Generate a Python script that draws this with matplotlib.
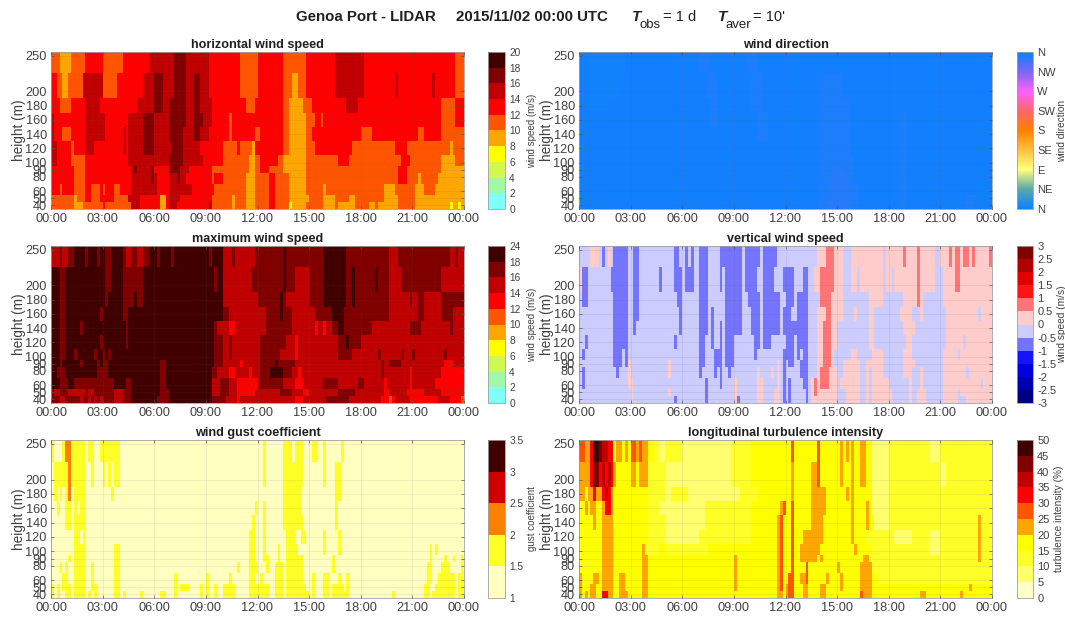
import numpy as np
import matplotlib
matplotlib.use("Agg")
import matplotlib.pyplot as plt
from matplotlib.colors import ListedColormap, BoundaryNorm, LinearSegmentedColormap, Normalize

plt.rcParams['font.family'] = ['Liberation Sans', 'DejaVu Sans']

N_COLS = 144
heights = [250, 200, 180, 160, 140, 120, 100, 90, 80, 60, 50, 40]
height_edges = [255, 225, 190, 170, 150, 130, 110, 95, 85, 70, 55, 45, 35]
ytick_values = [40, 50, 60, 80, 90, 100, 120, 140, 160, 180, 200, 250]
xtick_hours = [0, 3, 6, 9, 12, 15, 18, 21, 24]
xtick_labels = ['00:00', '03:00', '06:00', '09:00', '12:00', '15:00', '18:00', '21:00', '00:00']

# band index : column where the run ends (10-minute columns), rows from 250 m down to 40 m
horizontal_speed = [
 "5:3 4:7 5:12 6:18 5:25 6:34 7:43 8:47 7:55 6:66 5:72 6:81 5:89 6:99 7:109 6:141 5:144",
 "6:2 5:4 4:6 5:11 7:18 5:23 6:32 7:36 8:39 7:43 8:47 7:50 8:52 7:55 6:66 5:72 6:81 5:84 4:86 5:89 6:99 7:109 6:120 7:121 6:133 7:134 6:141 5:144",
 "6:3 5:7 6:12 7:17 6:30 7:36 8:39 7:41 8:47 7:50 8:52 7:56 6:68 5:71 6:81 5:83 4:88 5:91 6:103 7:107 6:136 5:141 6:144",
 "7:1 6:12 7:19 6:27 7:32 8:36 7:41 8:47 7:50 8:53 7:56 6:62 5:63 6:81 5:83 4:89 5:92 6:94 5:95 6:136 5:141 6:144",
 "7:1 6:4 5:7 6:12 7:19 6:25 7:26 6:27 7:32 8:36 7:41 8:46 7:50 8:52 7:55 6:62 5:63 6:71 5:73 6:81 5:83 4:89 5:91 6:108 5:112 6:128 5:130 6:136 5:144",
 "7:2 6:7 5:8 6:12 7:15 6:25 7:26 6:27 7:32 8:36 7:42 8:46 7:52 6:60 5:65 6:66 5:70 4:71 6:81 5:83 4:89 5:92 6:105 5:120 6:124 5:139 4:140 5:144",
 "7:2 6:7 5:12 6:27 7:41 8:46 7:53 6:60 5:69 4:71 5:73 6:79 5:81 4:89 5:100 6:104 5:122 6:125 5:136 4:141 5:144",
 "6:8 5:12 6:28 7:29 8:30 7:35 8:36 6:41 8:45 7:48 6:56 5:69 4:71 5:73 6:76 5:81 4:89 5:121 6:124 5:136 4:144",
 "6:8 5:12 6:28 7:35 8:36 7:37 6:41 7:44 8:45 7:47 6:56 5:57 6:60 5:68 4:71 5:76 6:78 5:83 4:89 5:121 6:124 5:128 4:129 5:135 4:144",
 "6:3 5:4 6:8 5:12 6:14 5:17 6:18 5:19 6:22 5:24 6:28 7:37 6:41 7:49 6:57 5:68 4:71 5:76 6:78 5:83 4:89 5:95 4:96 5:116 4:120 5:127 4:130 5:134 4:144",
 "5:8 4:9 5:12 6:14 5:17 6:22 5:27 7:31 6:38 4:40 6:41 7:45 6:56 5:63 4:64 5:68 4:71 5:76 6:78 5:83 4:90 5:95 4:99 5:104 4:106 5:116 4:121 5:127 4:144",
 "5:8 4:11 5:18 6:19 5:25 5:28 7:31 6:38 4:40 6:41 7:44 6:55 7:56 5:63 4:64 5:68 4:71 5:76 6:78 5:83 3:84 4:89 5:95 4:99 5:100 4:106 5:111 4:113 5:114 4:121 5:127 4:139 3:140 4:142 3:143 4:144",
]
maximum_speed = [
 "7:3 8:4 7:6 8:8 9:12 8:13 9:16 8:17 9:19 8:21 9:25 8:26 7:28 8:30 7:32 8:34 9:37 8:38 9:42 8:43 9:55 8:56 9:60 7:63 8:64 7:71 8:81 9:82 8:95 9:103 8:118 7:121 8:139 7:141 8:142 7:144",
 "9:3 8:5 9:19 8:21 9:25 8:32 9:57 8:58 9:60 7:64 7:70 8:81 9:82 8:85 7:90 8:95 9:103 8:105 9:106 8:113 9:114 8:118 7:122 8:136 7:144",
 "9:3 8:5 9:19 8:20 9:25 8:29 9:30 8:32 9:60 7:62 7:72 8:80 9:81 8:82 7:90 8:95 9:103 8:105 9:106 8:118 7:125 8:126 7:128 8:130 7:136 8:144",
 "9:3 8:5 9:17 8:18 9:25 8:27 9:60 8:62 7:75 8:80 9:81 8:84 7:92 8:98 9:102 8:118 7:128 8:130 7:136 8:140 7:144",
 "9:3 8:5 9:10 8:11 9:17 9:26 8:27 9:57 8:58 7:62 6:64 7:75 8:84 7:92 6:93 7:95 6:96 7:98 8:100 9:102 8:112 7:125 8:129 7:139 8:140 7:144",
 "9:3 8:5 9:17 8:18 9:26 8:27 9:57 8:60 7:62 8:63 7:73 8:82 7:85 6:86 7:100 8:103 9:104 8:108 7:144",
 "9:3 8:5 9:8 8:9 9:15 8:16 9:18 8:19 9:20 8:21 9:57 8:60 7:62 8:63 7:73 8:80 7:85 6:86 7:100 8:105 7:114 8:115 7:122 8:123 7:126 8:127 7:137 8:138 7:144",
 "9:3 8:4 9:10 8:11 9:16 8:17 9:18 8:20 9:38 8:40 9:57 8:60 7:66 6:67 7:73 8:78 9:79 8:85 7:115 8:116 7:118 8:122 7:137 6:140 7:144",
 "9:2 8:5 9:16 8:20 9:38 8:40 9:56 8:58 7:62 6:64 7:69 6:70 7:73 8:76 9:81 8:84 7:86 6:87 7:115 8:116 7:125 6:126 7:136 6:144",
 "9:3 8:6 9:8 8:22 9:26 8:28 9:38 8:40 9:56 7:59 8:62 7:65 6:72 7:73 8:81 7:85 6:88 7:95 8:100 7:107 8:109 7:116 6:117 7:125 6:126 7:134 6:144",
 "8:1 7:3 8:6 7:12 8:13 7:15 8:22 7:25 8:28 9:38 8:41 9:56 7:59 8:62 7:65 6:71 7:80 8:84 7:88 6:90 7:100 8:106 7:116 6:118 7:124 6:130 7:136 6:144",
 "8:3 7:5 8:10 7:11 8:13 7:14 8:15 7:16 8:17 7:18 8:22 7:25 8:28 9:37 8:41 9:56 8:61 7:65 6:66 7:85 6:88 7:96 8:104 7:115 6:118 5:119 6:120 7:125 6:135 7:139 6:143 5:144",
]
# sparse panels: band:start-end patches over a base band
vertical_speed = [
 "6:4-7 4:8-9 6:10-11 4:12-17 4:19-21 4:33-35 4:37-38 4:39-40 4:42-45 4:49-57 4:58-63 4:64-69 6:83-144 7:86-89 5:92-95 5:106-107 7:113-114 7:118-119 5:124-126 7:129-130 7:131-133 7:134-136 7:137-138 7:143-144",
 "6:0-1 4:1-3 4:11-17 4:19-21 4:28-29 4:33-36 4:37-40 4:42-45 4:49-50 4:51-57 4:58-62 4:64-68 4:71-75 4:78-80 6:82-144 7:84-89 5:92-95 5:97-98 5:106-107 5:109-110 7:118-119 5:124-127 7:131-133",
 "4:1-3 4:12-17 4:19-21 4:34-36 4:42-45 4:51-57 4:59-63 4:64-70 4:72-75 4:76-80 6:84-144 7:84-88 5:92-97 5:97-101 5:106-113 7:118-119 5:120-127",
 "4:12-17 4:19-21 4:35-36 4:42-45 4:46-47 4:51-57 4:60-63 4:64-70 4:71-74 4:76-80 6:83-144 7:86-88 5:92-96 5:97-101 5:103-106 5:106-112 5:116-119 5:120-128 5:139-140",
 "4:12-17 4:19-20 4:35-36 4:42-45 4:46-47 4:49-50 4:51-57 4:60-63 4:64-70 4:71-76 4:76-80 6:83-144 7:85-88 5:90-101 5:103-113 5:117-128",
 "4:2-3 4:12-17 4:33-34 4:42-44 4:46-47 4:49-50 4:51-54 4:61-63 4:64-67 4:72-75 4:76-80 6:83-144 7:85-88 5:90-101 5:103-114 5:116-128 5:134-135",
 "4:1-2 4:12-15 4:16-17 4:42-44 4:47-50 4:51-54 4:61-62 4:71-75 4:76-77 4:78-80 6:83-144 7:85-88 5:89-95 5:97-102 5:106-113 5:116-127 5:132-133",
 "4:12-15 4:16-17 6:17-18 6:31-32 4:42-44 4:47-50 4:51-54 6:69-70 4:71-72 4:73-75 4:77-80 6:83-144 7:85-88 5:89-92 5:98-100 5:106-113 5:117-127",
 "4:1-2 4:13-14 6:17-18 6:31-32 4:42-43 4:47-48 4:49-50 4:52-53 6:62-63 6:67-68 6:69-70 4:71-72 4:77-80 6:83-144 7:84-87 5:90-92 5:98-100 5:101-102 5:106-113 5:116-119 5:120-127 5:135-136",
 "4:1-2 6:17-19 4:44-45 4:49-50 6:54-55 6:62-64 6:69-70 4:71-72 4:73-74 4:78-80 6:81-144 7:82-83 7:84-87 5:90-91 5:98-100 5:101-102 5:108-115 5:116-119 5:120-127 5:140-141",
 "6:18-19 6:31-32 4:44-45 6:54-55 6:62-64 6:68-70 4:71-72 4:73-74 4:79-80 6:81-144 7:82-83 5:90-93 5:98-100 5:101-102 5:109-115 5:116-118 5:121-127 5:132-133",
 "6:18-19 4:33-34 4:44-45 6:54-55 4:55-56 6:62-64 6:68-70 4:71-72 4:73-74 4:79-80 6:81-144 5:90-93 5:98-100 5:101-102 5:109-115 5:116-118 5:121-127 5:132-135",
]
gust_coefficient = [
 "1:0-1 1:4-6 2:5-7 1:7-12 1:13-15 1:17-24 1:74-75 1:81-84 1:85-88 1:91-93 1:95-96 1:101-102",
 "1:1-6 2:6-7 1:7-12 1:14-15 1:18-19 1:20-21 1:22-24 1:74-75 1:81-88 1:95-96 1:99-101",
 "1:1-2 1:3-4 1:5-6 2:6-7 1:8-12 1:21-22 1:81-87 1:99-101",
 "1:2-3 1:5-7 1:8-9 1:10-12 1:71-72 1:74-75 1:74-75 1:81-87 1:99-100",
 "1:5-7 1:8-10 1:10-12 1:70-71 1:74-75 1:81-88 1:99-100",
 "1:8-10 1:11-12 1:69-71 1:74-75 1:82-85 1:87-89 1:95-96 1:100-101",
 "1:8-12 1:22-24 1:69-71 1:74-75 1:79-80 1:82-86 1:95-96 1:100-101 1:132-133 1:134-135",
 "1:6-7 1:8-12 1:22-24 1:69-71 1:74-76 1:79-80 1:82-88 1:98-99 1:132-133 1:137-138 1:140-141 1:143-144",
 "1:3-4 1:5-6 1:8-12 1:14-15 1:22-24 1:65-66 1:69-72 1:75-76 1:78-81 1:82-88 1:98-99 1:131-133 1:136-139 1:143-144",
 "1:4-6 1:8-12 1:14-15 1:22-24 1:43-44 1:54-55 1:62-63 1:69-71 1:73-74 1:78-81 1:82-88 1:91-92 1:95-97 1:100-101 1:103-104 1:131-133 1:135-141 1:142-144",
 "1:0-1 1:2-3 1:4-7 1:8-12 1:14-16 1:22-24 1:43-44 1:45-48 1:52-53 1:54-55 1:57-58 1:60-64 1:69-76 1:78-81 1:82-89 1:91-92 1:95-97 1:98-102 1:103-104 1:130-132 1:134-141 1:142-144",
 "1:0-1 1:2-3 1:5-7 1:8-12 1:13-14 1:15-16 1:22-24 1:25-26 1:31-32 1:38-40 1:43-44 1:52-53 1:54-55 1:57-58 1:60-64 1:69-76 1:78-81 1:82-90 1:91-92 1:95-97 1:98-102 1:102-104 1:119-120 1:130-132 1:133-141 1:142-144",
]
turbulence_intensity = [
 "5:2 4:4 6:5 9:7 8:8 7:10 6:12 3:13 4:15 3:16 4:17 3:18 5:20 4:21 5:22 4:24 3:26 2:28 1:30 2:36 1:53 2:60 3:70 3:74 5:75 3:83 5:84 3:91 4:92 3:93 4:94 3:95 4:96 3:98 4:100 3:102 1:108 2:122 1:126 2:144",
 "4:4 6:5 8:7 6:8 7:9 6:10 7:11 6:12 4:13 3:18 4:20 3:21 4:24 2:30 1:36 1:53 2:60 3:74 4:75 3:81 4:83 5:84 3:91 4:92 3:95 4:96 3:98 4:100 3:102 1:108 2:126 1:128 2:144",
 "4:2 3:3 4:5 6:6 4:8 6:9 7:10 6:11 4:12 3:24 2:30 1:32 2:38 1:56 2:62 3:74 4:75 3:81 4:86 3:93 4:94 3:95 4:96 3:102 1:108 2:144",
 "3:2 4:3 3:4 4:6 3:8 4:9 6:11 4:12 3:24 2:28 1:44 2:60 3:70 4:71 5:72 3:74 5:75 3:81 4:86 3:95 4:96 3:100 4:101 3:102 1:108 2:144",
 "3:5 4:6 3:8 4:12 3:24 2:30 1:44 2:60 3:69 4:70 5:71 3:74 5:75 3:81 4:85 3:95 4:96 3:100 4:101 3:103 1:108 2:139 4:140 2:144",
 "3:8 4:12 3:24 2:30 1:42 2:60 3:69 4:70 5:71 3:74 5:75 3:78 4:85 3:95 4:96 3:100 2:110 1:116 2:122 1:126 2:139 4:140 2:144",
 "3:8 4:12 3:22 4:23 2:28 3:30 2:45 3:53 3:69 4:70 5:71 3:74 5:75 3:77 4:84 3:96 4:97 3:102 2:122 1:126 2:139 4:140 2:144",
 "3:8 4:12 3:22 4:24 3:54 4:55 3:69 4:70 5:71 3:74 5:75 3:77 4:83 3:84 4:85 3:99 4:101 2:126 2:139 4:140 2:144",
 "3:8 4:12 3:22 4:24 3:54 4:55 3:69 4:70 5:71 3:74 5:75 3:79 5:80 3:84 3:90 4:91 3:98 4:102 2:144",
 "4:1 3:5 4:7 3:8 4:12 3:14 4:16 3:22 4:24 3:54 4:55 3:69 4:70 5:71 3:73 5:75 3:77 4:79 5:80 3:86 4:87 3:91 4:92 3:98 4:102 3:104 2:144",
 "4:1 3:4 4:6 3:8 4:12 3:14 4:16 3:22 4:24 3:54 4:55 3:69 4:70 5:71 3:72 4:73 5:75 3:78 4:80 3:84 4:86 3:91 4:92 3:98 4:102 3:136 4:137 3:144",
 "4:1 3:2 4:3 3:4 4:6 3:8 6:10 4:12 3:14 4:17 3:22 4:24 3:69 4:71 3:72 4:73 5:75 3:78 4:80 3:84 4:86 3:98 5:99 4:102 3:119 4:121 3:133 4:134 3:144",
]
direction_tint = [
 "3:3-16 1:42-46 1:58-62",
 "3:3-14 1:44-48 1:60-64 1:84-92",
 "3:3-10 1:46-48 1:60-64 1:84-94",
 "1:46-48 1:62-66 1:84-95 1:112-114",
 "1:62-66 1:84-95 1:112-114",
 "1:84-95 1:112-114",
 "1:84-96 1:112-114",
 "1:84-96 2:88-92 1:112-114",
 "1:84-96 2:88-93 1:112-114",
 "1:83-97 2:87-94 1:112-114",
 "1:83-97 2:87-94 1:112-114 1:135-138",
 "1:83-97 2:86-95 1:112-114 1:135-138",
]
direction_tint_values = [358.0, 354.0, 349.0, 2.0]

wind_bounds = [0, 2, 4, 6, 8, 10, 12, 14, 16, 18, 20]
max_bounds = [0, 2, 4, 6, 8, 10, 12, 14, 16, 18, 24]
wind_colors = ['#80ffff', '#a0f8a8', '#d0f850', '#ffff00', '#ffa500', '#ff5500', '#ff0000', '#c00000', '#800000', '#400000']
vert_bounds = [-3, -2.5, -2, -1.5, -1, -0.5, 0, 0.5, 1, 1.5, 2, 2.5, 3]
vert_colors = ['#000080', '#0000b0', '#0000e0', '#1414ff', '#7474ff', '#ccccff', '#ffcccc', '#ff7474', '#ff1414', '#e00000', '#b00000', '#800000']
gust_bounds = [1, 1.5, 2, 2.5, 3, 3.5]
gust_colors = ['#ffffc0', '#ffff28', '#ff8000', '#d00000', '#400000']
ti_bounds = [0, 5, 10, 15, 20, 25, 30, 35, 40, 45, 50]
ti_colors = ['#ffffc8', '#ffff70', '#ffff28', '#ffff00', '#ffa500', '#ff5500', '#ff0000', '#c00000', '#800000', '#400000']
dir_colors = ['#0f80ff', '#58a8a8', '#ffff80', '#ffc040', '#ff8000', '#ff6868', '#ff60ff', '#7a68f0', '#0f80ff']
dir_labels = ['N', 'NE', 'E', 'SE', 'S', 'SW', 'W', 'NW', 'N']
dir_ticks = [0, 45, 90, 135, 180, 225, 270, 315, 360]


def mids_of(bounds):
    return [(a + b) / 2 for a, b in zip(bounds[:-1], bounds[1:])]


def decode_runs(rows, bounds):
    mids = mids_of(bounds)
    out = np.zeros((len(rows), N_COLS))
    for i, row in enumerate(rows):
        start = 0
        for tok in row.split():
            band, end = tok.split(':')
            out[i, start:int(end)] = mids[int(band)]
            start = max(start, int(end))
        if start < N_COLS:
            out[i, start:] = out[i, start - 1]
    return out


def decode_spans(rows, base, values):
    out = np.full((len(rows), N_COLS), float(values[base]))
    for i, row in enumerate(rows):
        for tok in row.split():
            band, span = tok.split(':')
            a, b = span.split('-')
            out[i, int(a):int(b)] = values[int(band)]
    return out


FW, FH = 1065, 618
fig = plt.figure(figsize=(FW / 100, FH / 100), dpi=100)


def box(l, t, r, b):
    return [l / FW, 1 - b / FH, (r - l) / FW, (b - t) / FH]


t_edges = np.arange(N_COLS + 1) / 6.0
GRAY = '#404040'


def panel(pos, cpos, data, title, cmap, norm, ticks, ticklabels, clabel, right=False, label_x=2.3):
    ax = fig.add_axes(box(*pos))
    mesh = ax.pcolormesh(t_edges, height_edges, data, cmap=cmap, norm=norm, shading='flat')
    ax.set_xlim(0, 24)
    ax.set_ylim(35, 255)
    ax.set_xticks(xtick_hours)
    ax.set_xticklabels(xtick_labels, fontsize=9.2, color=GRAY)
    ax.set_yticks(ytick_values)
    ax.set_yticklabels([str(v) for v in ytick_values], fontsize=9.2, color=GRAY)
    ax.tick_params(axis='both', direction='in', length=2.5, width=0.5, color='#555555',
                   top=True, right=True, pad=3)
    ax.grid(True, color='#606060', alpha=0.12, linewidth=0.6)
    ax.set_axisbelow(False)
    ax.set_ylabel('height (m)', fontsize=9.8, color=GRAY)
    ax.yaxis.set_label_coords(-0.06, 0.5)
    ax.set_title(title, fontsize=9.1, fontweight='bold', color='#202020', pad=3)
    for s in ax.spines.values():
        s.set_color('#a0a0a0')
        s.set_linewidth(0.6)
    cax = fig.add_axes(box(*cpos))
    cb = fig.colorbar(mesh, cax=cax, ticks=ticks)
    cb.ax.set_yticklabels(ticklabels, fontsize=8 if right else 7.3, color=GRAY)
    cb.ax.tick_params(length=0, pad=3)
    cb.outline.set_edgecolor('#a0a0a0')
    cb.outline.set_linewidth(0.6)
    cb.minorticks_off()
    cb.set_label(clabel, fontsize=7 if not right else 7.3, color=GRAY)
    cb.ax.yaxis.set_label_coords(label_x, 0.5)
    return ax


def lab(seq):
    return [('%g' % v) for v in seq]


wind_cmap = ListedColormap(wind_colors)
L = (51, 464)
R = (579, 992)
CL = (488, 505)
CR = (1017, 1033)
Y1, Y2, Y3 = (52, 209), (246, 403), (440, 598)

panel((L[0], Y1[0], L[1], Y1[1]), (CL[0], Y1[0], CL[1], Y1[1]),
      decode_runs(horizontal_speed, wind_bounds), 'horizontal wind speed',
      wind_cmap, BoundaryNorm(wind_bounds, 10), wind_bounds, lab(wind_bounds), 'wind speed (m/s)')

dir_cmap = LinearSegmentedColormap.from_list('dirc', dir_colors, N=256)
panel((R[0], Y1[0], R[1], Y1[1]), (CR[0], Y1[0], CR[1], Y1[1]),
      decode_spans(direction_tint, 0, direction_tint_values), 'wind direction',
      dir_cmap, Normalize(0, 360), dir_ticks, dir_labels, 'wind direction', right=True, label_x=2.5)

panel((L[0], Y2[0], L[1], Y2[1]), (CL[0], Y2[0], CL[1], Y2[1]),
      decode_runs(maximum_speed, max_bounds), 'maximum wind speed',
      wind_cmap, BoundaryNorm(max_bounds, 10), max_bounds, lab(max_bounds), 'wind speed (m/s)')

panel((R[0], Y2[0], R[1], Y2[1]), (CR[0], Y2[0], CR[1], Y2[1]),
      decode_spans(vertical_speed, 5, mids_of(vert_bounds)), 'vertical wind speed',
      ListedColormap(vert_colors), BoundaryNorm(vert_bounds, 12), vert_bounds, lab(vert_bounds), 'wind speed (m/s)', right=True, label_x=2.5)

panel((L[0], Y3[0], L[1], Y3[1]), (CL[0], Y3[0], CL[1], Y3[1]),
      decode_spans(gust_coefficient, 0, mids_of(gust_bounds)), 'wind gust coefficient',
      ListedColormap(gust_colors), BoundaryNorm(gust_bounds, 5), gust_bounds, lab(gust_bounds), 'gust coefficient')

panel((R[0], Y3[0], R[1], Y3[1]), (CR[0], Y3[0], CR[1], Y3[1]),
      decode_runs(turbulence_intensity, ti_bounds), 'longitudinal turbulence intensity',
      ListedColormap(ti_colors), BoundaryNorm(ti_bounds, 10), ti_bounds, lab(ti_bounds), 'turbulence intensity (%)', right=True, label_x=2.3)


def ftext(x, y, s, **kw):
    fig.text(x / FW, 1 - y / FH, s, va='baseline', color='#202020', **kw)


ftext(296, 21, 'Genoa Port - LIDAR', fontsize=10.8, fontweight='bold')
ftext(456, 21, '2015/11/02 00:00 UTC', fontsize=10.8, fontweight='bold')
ftext(632, 21, 'T', fontsize=11, fontweight='bold', style='italic')
ftext(639, 28, 'obs', fontsize=9.5)
ftext(663, 21, '= 1 d', fontsize=10.5)
ftext(718, 21, 'T', fontsize=11, fontweight='bold', style='italic')
ftext(726, 28, 'aver', fontsize=9.5)
ftext(753, 21, "= 10'", fontsize=10.5)

fig.savefig('out.png', dpi=100)
